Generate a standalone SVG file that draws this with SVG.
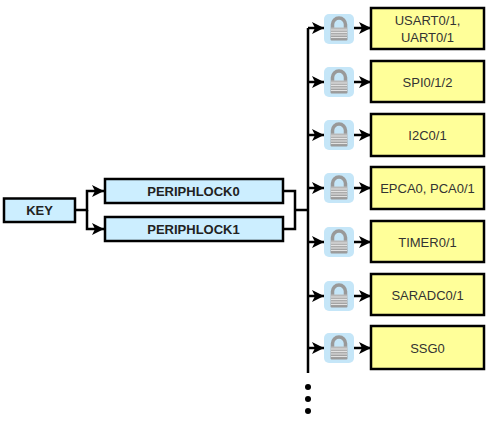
<svg xmlns="http://www.w3.org/2000/svg" xmlns:xlink="http://www.w3.org/1999/xlink" width="500" height="423" viewBox="0 0 500 423">
<style>
.blue{fill:#cceeff;stroke:#000;stroke-width:2.5}
.yel{fill:#ffff99;stroke:#000;stroke-width:2.5}
.c{fill:none;stroke:#000;stroke-width:2.5}
.b{font:bold 13px "Liberation Sans",Arial,sans-serif;fill:#222;text-anchor:middle}
.t{font:13px "Liberation Sans",Arial,sans-serif;fill:#333;text-anchor:middle}
</style>
<defs>
<marker id="a" markerUnits="userSpaceOnUse" markerWidth="14" markerHeight="14" refX="12" refY="7" orient="auto"><path d="M0 1L12 7L0 13L3 7Z" fill="#000"/></marker>
<linearGradient id="g" x1="0" y1="0" x2="0" y2="1"><stop offset="0" stop-color="#bbb"/><stop offset="1" stop-color="#999"/></linearGradient>
<symbol id="lock" width="30" height="30" viewBox="0 0 30 30" overflow="visible">
<rect x="0" y="0" width="30" height="30" rx="5" fill="#c5e6f8"/>
<path d="M8.500 14V10.500a6.500 6.500 0 0 1 13 0V14" fill="none" stroke="#999" stroke-width="3.500"/>
<rect x="6.500" y="13.500" width="17" height="13" rx="1" fill="url(#g)"/>
<path d="M7 16h16M7 18.500h16M7 21h16M7 23.500h16" stroke="#e2e2e2" stroke-width="1"/>
</symbol>
</defs>
<g id="connectors">
<path class="c" d="M76 210H87V191H104" marker-end="url(#a)"/>
<path class="c" d="M87 210V229H104" marker-end="url(#a)"/>
<path class="c" d="M284 191H295V229H284M295 210H308"/>
<path class="c" d="M308 28V373"/>
<path class="c" d="M308 28H324" marker-end="url(#a)"/>
<path class="c" d="M308 82H324" marker-end="url(#a)"/>
<path class="c" d="M308 135H324" marker-end="url(#a)"/>
<path class="c" d="M308 188H324" marker-end="url(#a)"/>
<path class="c" d="M308 242H324" marker-end="url(#a)"/>
<path class="c" d="M308 296H324" marker-end="url(#a)"/>
<path class="c" d="M308 348H324" marker-end="url(#a)"/>
<path class="c" d="M354 28H371" marker-end="url(#a)"/>
<path class="c" d="M354 82H371" marker-end="url(#a)"/>
<path class="c" d="M354 135H371" marker-end="url(#a)"/>
<path class="c" d="M354 188H371" marker-end="url(#a)"/>
<path class="c" d="M354 242H371" marker-end="url(#a)"/>
<path class="c" d="M354 296H371" marker-end="url(#a)"/>
<path class="c" d="M354 348H371" marker-end="url(#a)"/>
</g>
<g id="dots" fill="#000"><circle cx="308" cy="387" r="3"/><circle cx="308" cy="399" r="3"/><circle cx="308" cy="411" r="3"/></g>
<g id="key"><rect class="blue" x="4" y="198.500" width="71" height="23.500"/><text class="b" x="39.500" y="214.500">KEY</text></g>
<g id="periphlock0"><rect class="blue" x="105" y="179" width="178" height="24"/><text class="b" x="193.500" y="195.500">PERIPHLOCK0</text></g>
<g id="periphlock1"><rect class="blue" x="105" y="217" width="178" height="24"/><text class="b" x="193.500" y="234">PERIPHLOCK1</text></g>
<g id="lock1"><use xlink:href="#lock" href="#lock" x="324" y="14"/></g>
<g id="lock2"><use xlink:href="#lock" href="#lock" x="324" y="67"/></g>
<g id="lock3"><use xlink:href="#lock" href="#lock" x="324" y="120"/></g>
<g id="lock4"><use xlink:href="#lock" href="#lock" x="324" y="173"/></g>
<g id="lock5"><use xlink:href="#lock" href="#lock" x="324" y="227"/></g>
<g id="lock6"><use xlink:href="#lock" href="#lock" x="324" y="281"/></g>
<g id="lock7"><use xlink:href="#lock" href="#lock" x="324" y="333"/></g>
<g id="usart"><rect class="yel" x="371" y="8" width="113" height="41"/><text class="t" x="427.500" y="25">USART0/1,</text><text class="t" x="427.500" y="42">UART0/1</text></g>
<g id="spi"><rect class="yel" x="371" y="61" width="113" height="41"/><text class="t" x="427.500" y="87">SPI0/1/2</text></g>
<g id="i2c"><rect class="yel" x="371" y="114" width="113" height="42"/><text class="t" x="427.500" y="140">I2C0/1</text></g>
<g id="epca"><rect class="yel" x="371" y="167" width="113" height="42"/><text class="t" x="427.500" y="193">EPCA0, PCA0/1</text></g>
<g id="timer"><rect class="yel" x="371" y="221" width="113" height="41"/><text class="t" x="427.500" y="247">TIMER0/1</text></g>
<g id="saradc"><rect class="yel" x="371" y="274" width="113" height="41"/><text class="t" x="427.500" y="300">SARADC0/1</text></g>
<g id="ssg"><rect class="yel" x="371" y="326" width="113" height="43"/><text class="t" x="427.500" y="353">SSG0</text></g>
</svg>
